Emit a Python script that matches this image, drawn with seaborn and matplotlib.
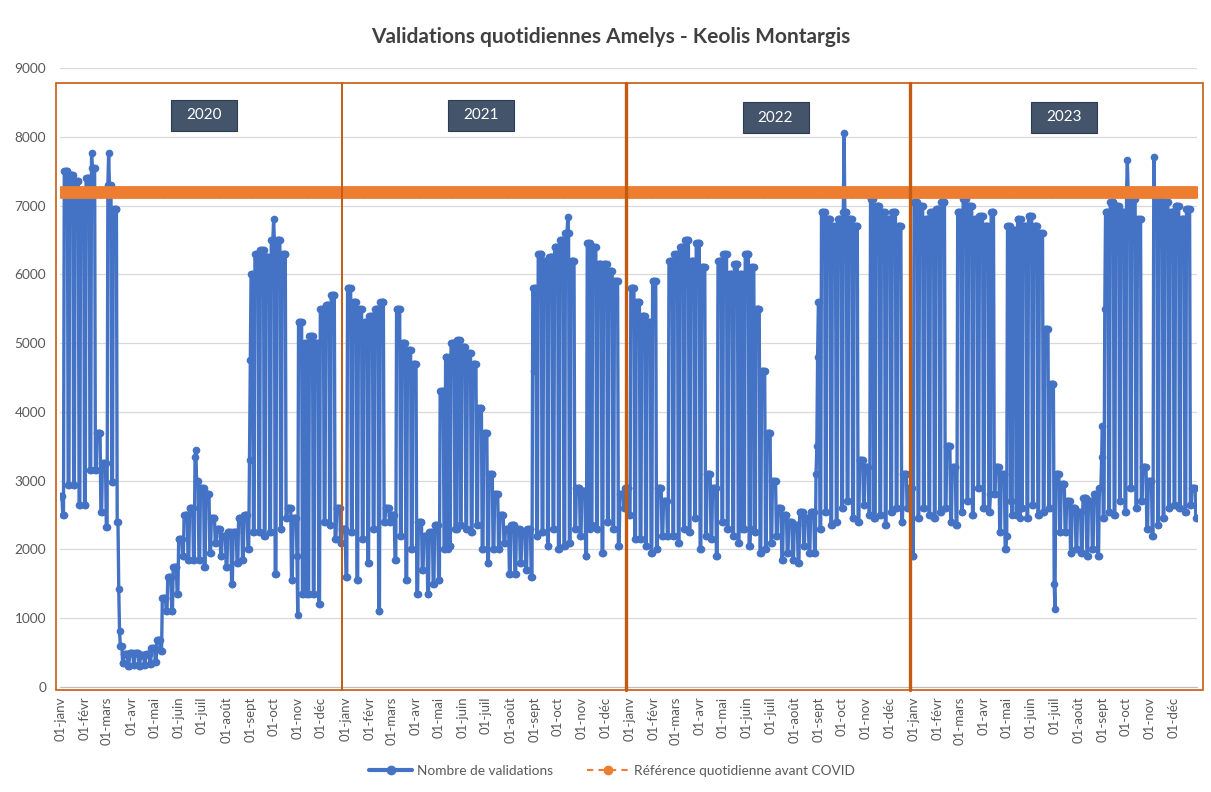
import matplotlib
matplotlib.use("Agg")
import matplotlib.pyplot as plt
from matplotlib.patches import Rectangle
from matplotlib.lines import Line2D
import seaborn as sns
import pandas as pd
import numpy as np

# month tick labels (French)
months = ["janv", "févr", "mars", "avr", "mai", "juin",
          "juil", "août", "sept", "oct", "nov", "déc"]
years = ["2020", "2021", "2022", "2023"]

# weekly readings (weeks start on Monday, first week = 30/12/2019)
# hi = weekday level, lo = weekend level
hi_2020 = [2780, 7500, 7450, 7350, 7150, 7400, 7550, 3700, 3250, 7300,
           6950, 600, 480, 500, 500, 470, 480, 560, 680, 1300,
           1600, 1750, 2150, 2500, 2600, 3000, 2900, 2800, 2450, 2300,
           2200, 2250, 2250, 2450, 2500, 6000, 6300, 6350, 6250, 6500,
           6500, 6300, 2600, 2450, 5300, 5000, 5100, 5000, 5500, 5550,
           5700, 2600, 2300]
lo_2020 = [2500, 2930, 2930, 2640, 2640, 3150, 3150, 2550, 2330, 2980,
           2400, 350, 310, 320, 310, 320, 340, 360, 520, 1100,
           1100, 1350, 1900, 1850, 1850, 1850, 1750, 1950, 2100, 1900,
           1750, 1500, 1800, 1850, 2000, 2250, 2250, 2200, 2250, 1650,
           2300, 2450, 1550, 1900, 1350, 1350, 1350, 1200, 2400, 2350,
           2150, 2100, 1600]

hi_2021 = [5800, 5600, 5500, 5300, 5400, 5500, 5600, 2600, 2500, 5500,
           5000, 4900, 4700, 2400, 2200, 2250, 2350, 4300, 4800, 5000,
           5050, 4950, 4850, 4700, 4050, 3700, 3100, 2800, 2500, 2300,
           2350, 2300, 2250, 2300, 5800, 6300, 6200, 6250, 6400, 6500,
           6600, 6200, 2900, 2850, 6450, 6400, 6150, 6150, 6050, 5900,
           2800, 2900]
lo_2021 = [2250, 1550, 2150, 1800, 2300, 1100, 2400, 2400, 1850, 2200,
           1550, 2000, 1350, 1700, 1350, 1500, 1550, 2000, 2050, 2300,
           2350, 2300, 2250, 2350, 2000, 1800, 2000, 2000, 2100, 1650,
           1650, 1800, 1700, 1600, 2200, 2250, 2050, 2300, 2000, 2050,
           2100, 2300, 2200, 1900, 2350, 2300, 1950, 2400, 2300, 2050,
           2600, 2500]

hi_2022 = [5800, 5600, 5400, 5300, 5900, 2900, 2700, 6200, 6300, 6400,
           6500, 6200, 6450, 6100, 3100, 2900, 6200, 6300, 6000, 6150,
           6000, 6300, 6100, 5500, 4600, 3700, 3000, 2600, 2500, 2400,
           2350, 2550, 2450, 2550, 5600, 6900, 6800, 6700, 6800, 6900,
           6800, 6700, 3300, 3200, 7100, 7000, 6900, 6800, 6900, 6700,
           3100, 2900]
lo_2022 = [2150, 2150, 2050, 1950, 2000, 2200, 2200, 2200, 2100, 2300,
           2250, 2450, 2000, 2200, 2150, 1900, 2400, 2300, 2200, 2100,
           2300, 2050, 2250, 1950, 2000, 2100, 2200, 1850, 1950, 1850,
           1800, 2050, 1950, 1950, 2300, 2550, 2350, 2400, 2600, 2700,
           2450, 2400, 2650, 2500, 2450, 2500, 2350, 2550, 2600, 2400,
           2600, 1900]

hi_2023 = [7050, 7000, 6800, 6900, 6950, 7050, 3500, 3200, 6900, 7100,
           7000, 6800, 6850, 6700, 6900, 3200, 3100, 6700, 6650, 6800,
           6700, 6850, 6700, 6600, 5200, 4400, 3100, 2950, 2700, 2600,
           2550, 2750, 2700, 2800, 2900, 6900, 7050, 7000, 6900, 7200,
           7100, 6800, 3200, 3000, 7200, 7150, 7050, 6900, 7000, 6800,
           6950, 2900]
lo_2023 = [2450, 2600, 2500, 2450, 2550, 2600, 2400, 2350, 2550, 2700,
           2500, 2900, 2600, 2550, 2800, 2250, 2000, 2700, 2500, 2600,
           2450, 2650, 2500, 2550, 2600, 2650, 2250, 2250, 1950, 2000,
           1950, 1900, 2000, 1900, 2450, 2550, 2500, 2700, 2550, 2900,
           2600, 2700, 2300, 2200, 2350, 2450, 2600, 2650, 2600, 2550,
           2650, 2450]

# single days that stand out in the picture
special_days = {
    "2020-02-10": 7760, "2020-03-03": 7760, "2020-03-16": 1420,
    "2020-03-17": 820, "2020-06-22": 3350, "2020-06-23": 3450,
    "2020-08-31": 3300, "2020-09-01": 4750, "2020-10-01": 6800,
    "2020-11-01": 1050, "2020-11-11": 1350,
    "2021-05-13": 2000, "2021-05-24": 2300, "2021-09-01": 4600,
    "2021-10-14": 6830, "2021-11-11": 2300,
    "2022-05-26": 2300, "2022-06-06": 2300, "2022-08-29": 3100,
    "2022-08-30": 3500, "2022-08-31": 4800, "2022-10-04": 8050,
    "2022-11-11": 2450,
    "2023-04-10": 2800, "2023-05-01": 2200, "2023-05-08": 2500,
    "2023-05-18": 2450, "2023-07-01": 1500, "2023-07-02": 1140,
    "2023-08-31": 3350, "2023-09-01": 3800, "2023-09-04": 5500,
    "2023-10-03": 7660, "2023-11-06": 7710,
}

REF_DAILY = 7200

# build the daily table
days = pd.date_range("2020-01-01", "2023-12-31", freq="D")
week_idx = (days - pd.Timestamp("2019-12-30")).days // 7
hi = np.array(hi_2020 + hi_2021 + hi_2022 + hi_2023)
lo = np.array(lo_2020 + lo_2021 + lo_2022 + lo_2023)
vals = np.where(days.dayofweek >= 5, lo[week_idx], hi[week_idx])

df = pd.DataFrame({"date": days, "day": np.arange(len(days)),
                   "validations": vals.astype(float)})
for d, v in special_days.items():
    df.loc[df["date"] == pd.Timestamp(d), "validations"] = v
df["reference"] = REF_DAILY

BLUE = "#4472C4"
ORANGE = "#ED7D31"
BOX = "#C55A11"
GREY = "#595959"

sns.set_style("white")
plt.rcParams["font.family"] = ["Lato", "DejaVu Sans"]

W, H = 1211, 792
fig = plt.figure(figsize=(W / 100, H / 100), dpi=100)
ax = fig.add_axes([60 / W, 1 - 687 / H, 1137 / W, 619 / H])

sns.lineplot(data=df, x="day", y="validations", ax=ax, color=BLUE,
             linewidth=2.4, marker="o", markersize=5.5, markeredgewidth=0,
             legend=False)
sns.lineplot(data=df, x="day", y="reference", ax=ax, color=ORANGE,
             linewidth=1.5, marker="o", markersize=8.6, markeredgewidth=0,
             legend=False)

ax.set_xlim(-0.5, len(df) - 0.5)
ax.set_ylim(0, 9000)
ax.set_yticks(range(0, 9001, 1000))
ax.set_yticklabels([str(v) for v in range(0, 9001, 1000)])
ax.yaxis.grid(True, color="#D9D9D9", linewidth=0.9)
ax.xaxis.grid(False)
ax.set_axisbelow(True)

first_days = df.index[df["date"].dt.day == 1]
ax.set_xticks(df.loc[first_days, "day"])
ax.set_xticklabels(["01-" + months[m - 1] for m in df.loc[first_days, "date"].dt.month],
                   rotation=90)
ax.tick_params(axis="x", length=4, width=0.8, color="#BFBFBF", pad=3,
               labelsize=9.5, labelcolor=GREY)
ax.tick_params(axis="y", length=0, pad=10, labelsize=9.8, labelcolor=GREY)
ax.set_xlabel("")
ax.set_ylabel("")
for s in ["top", "right", "left"]:
    ax.spines[s].set_visible(False)
ax.spines["bottom"].set_color("#BFBFBF")

# year frames
px_day = 1137 / len(df)
frame_edges = [-5.6, 361.9, 726.8, 1091.7, 1468.0]
for i in range(4):
    x0, x1 = frame_edges[i], frame_edges[i + 1]
    ax.add_patch(Rectangle((x0, -45), x1 - x0, 8825, fill=False,
                           edgecolor=BOX, linewidth=1.2, clip_on=False, zorder=5))
for xe in (frame_edges[2], frame_edges[3]):
    ax.plot([xe, xe], [-45, 8780], color=BOX, linewidth=2.4,
            clip_on=False, zorder=5)

# year labels
label_centers = [184.5, 540.5, 918.9, 1289.7]
label_heights = [8310, 8310, 8275, 8285]
bw, bh = 66 / px_day, 31 / 0.06878
for yr, cx, cy in zip(years, label_centers, label_heights):
    ax.add_patch(Rectangle((cx - bw / 2, cy - bh / 2), bw, bh,
                           facecolor="#44546A", edgecolor="#2F3B4F",
                           linewidth=0.8, zorder=6))
    ax.text(cx, cy, yr, color="white", fontsize=11, ha="center",
            va="center", zorder=7)

fig.text(611 / W, 1 - 37 / H, "Validations quotidiennes Amelys - Keolis Montargis",
         ha="center", va="center", fontsize=15, fontweight="bold",
         color="#404040")

handles = [
    Line2D([], [], color=BLUE, linewidth=3, marker="o", markersize=6),
    Line2D([], [], color=ORANGE, linewidth=1.5, linestyle=(0, (3, 2.5)),
           marker="o", markersize=6),
]
fig.legend(handles, ["Nombre de validations", "Référence quotidienne avant COVID"],
           loc="center", bbox_to_anchor=(612 / W, 1 - 771 / H), ncol=2,
           frameon=False, fontsize=9.8, labelcolor=GREY, handlelength=3.2,
           columnspacing=2.5, handletextpad=0.3)

fig.savefig("out.png", dpi=100)
